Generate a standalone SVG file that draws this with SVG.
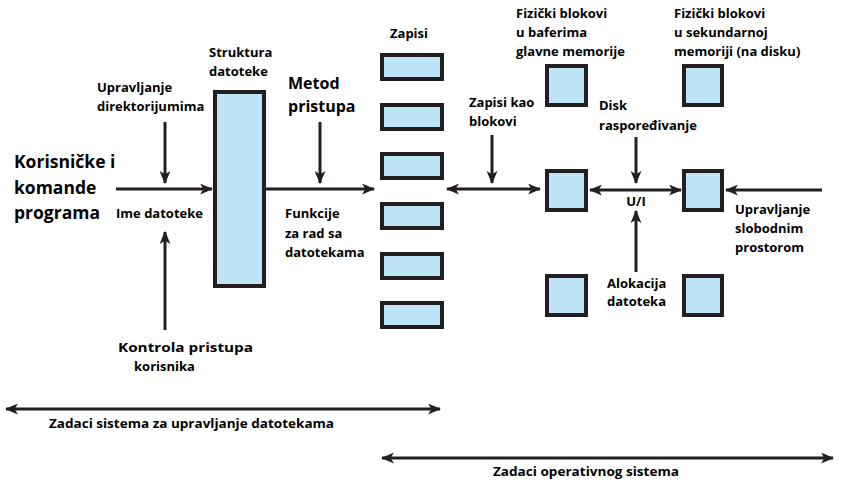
<svg xmlns="http://www.w3.org/2000/svg" width="841" height="490" viewBox="0 0 841 490">
<defs>
<marker id="ah" viewBox="0 0 12 10" refX="11" refY="5" markerWidth="13" markerHeight="11" markerUnits="userSpaceOnUse" orient="auto-start-reverse">
<path d="M0,0 L12,5 L0,10 L3,5 Z" fill="#231f20"/>
</marker>
</defs>
<style>
.t{font-family:"Open Sans","Liberation Sans",sans-serif;font-weight:bold;font-size:13px;fill:#000}
.big{font-size:17.5px}
.mid{font-size:16px}
.n{font-size:13px}
.box{fill:#bde4f7;stroke:#231f20;stroke-width:4}
.ln{stroke:#231f20;stroke-width:3;fill:none}
</style>
<rect width="841" height="490" fill="#fff"/>
<g id="connectors">
<line class="ln" x1="116" y1="189" x2="212" y2="189" marker-end="url(#ah)"/>
<line class="ln" x1="165" y1="122" x2="165" y2="183" marker-end="url(#ah)"/>
<line class="ln" x1="165" y1="330" x2="165" y2="232" marker-end="url(#ah)"/>
<line class="ln" x1="266" y1="189" x2="374" y2="189" marker-end="url(#ah)"/>
<line class="ln" x1="320" y1="122" x2="320" y2="183" marker-end="url(#ah)"/>
<line class="ln" x1="447" y1="189" x2="540" y2="189" marker-start="url(#ah)" marker-end="url(#ah)"/>
<line class="ln" x1="492" y1="135" x2="492" y2="183" marker-end="url(#ah)"/>
<line class="ln" x1="590" y1="190" x2="681" y2="190" marker-start="url(#ah)" marker-end="url(#ah)"/>
<line class="ln" x1="636" y1="137" x2="636" y2="183" marker-end="url(#ah)"/>
<line class="ln" x1="636" y1="272" x2="636" y2="211" marker-end="url(#ah)"/>
<line class="ln" x1="822" y1="190" x2="726" y2="190" marker-end="url(#ah)"/>
<line class="ln" x1="6" y1="409" x2="440" y2="409" marker-start="url(#ah)" marker-end="url(#ah)"/>
<line class="ln" x1="382" y1="458" x2="833" y2="458" marker-start="url(#ah)" marker-end="url(#ah)"/>
</g>
<g id="korisnicke">
<text class="t big" x="14" y="168">Korisničke i</text>
<text class="t big" x="14" y="194">komande</text>
<text class="t big" x="14" y="219">programa</text>
</g>
<g id="upravljanje-dir">
<text class="t" x="97" y="92">Upravljanje</text>
<text class="t" x="97" y="111">direktorijumima</text>
</g>
<g id="ime-datoteke"><text class="t" x="116" y="218">Ime datoteke</text></g>
<g id="kontrola">
<text class="t n" x="118" y="352" textLength="135" lengthAdjust="spacingAndGlyphs">Kontrola pristupa</text>
<text class="t n" x="134" y="371" textLength="61" lengthAdjust="spacingAndGlyphs">korisnika</text>
</g>
<g id="struktura">
<text class="t" x="209" y="57">Struktura</text>
<text class="t" x="209" y="76">datoteke</text>
<rect class="box" x="215" y="92" width="49" height="194"/>
</g>
<g id="metod">
<text class="t mid" x="288" y="89">Metod</text>
<text class="t mid" x="288" y="112">pristupa</text>
</g>
<g id="funkcije">
<text class="t" x="285" y="218">Funkcije</text>
<text class="t" x="285" y="238">za rad sa</text>
<text class="t" x="285" y="257">datotekama</text>
</g>
<g id="zapisi">
<text class="t" x="390" y="38">Zapisi</text>
<rect class="box" x="382" y="55" width="60" height="24"/>
<rect class="box" x="382" y="105" width="60" height="24"/>
<rect class="box" x="382" y="154" width="60" height="24"/>
<rect class="box" x="382" y="204" width="60" height="24"/>
<rect class="box" x="382" y="254" width="60" height="24"/>
<rect class="box" x="382" y="303" width="60" height="24"/>
</g>
<g id="zapisi-kao-blokovi">
<text class="t" x="469" y="107">Zapisi kao</text>
<text class="t" x="469" y="126">blokovi</text>
</g>
<g id="bafer">
<text class="t" x="516" y="18">Fizički blokovi</text>
<text class="t" x="516" y="37">u baferima</text>
<text class="t" x="516" y="56">glavne memorije</text>
<rect class="box" x="547" y="66" width="39" height="39"/>
<rect class="box" x="547" y="171" width="39" height="39"/>
<rect class="box" x="547" y="276" width="39" height="39"/>
</g>
<g id="disk-rasp">
<text class="t" x="599" y="110">Disk</text>
<text class="t" x="599" y="130">raspoređivanje</text>
</g>
<g id="ui"><text class="t" x="636" y="206" text-anchor="middle">U/I</text></g>
<g id="alokacija">
<text class="t" x="607" y="288">Alokacija</text>
<text class="t" x="607" y="306">datoteka</text>
</g>
<g id="disk">
<text class="t" x="674" y="18">Fizički blokovi</text>
<text class="t" x="674" y="37">u sekundarnoj</text>
<text class="t" x="674" y="56">memoriji (na disku)</text>
<rect class="box" x="684" y="66" width="38" height="39"/>
<rect class="box" x="684" y="171" width="38" height="39"/>
<rect class="box" x="684" y="276" width="38" height="39"/>
</g>
<g id="slobodni">
<text class="t" x="735" y="214">Upravljanje</text>
<text class="t" x="735" y="233">slobodnim</text>
<text class="t" x="735" y="252">prostorom</text>
</g>
<g id="zadaci-fs"><text class="t n" x="49" y="428" textLength="285" lengthAdjust="spacingAndGlyphs">Zadaci sistema za upravljanje datotekama</text></g>
<g id="zadaci-os"><text class="t n" x="493" y="476" textLength="186" lengthAdjust="spacingAndGlyphs">Zadaci operativnog sistema</text></g>
</svg>
